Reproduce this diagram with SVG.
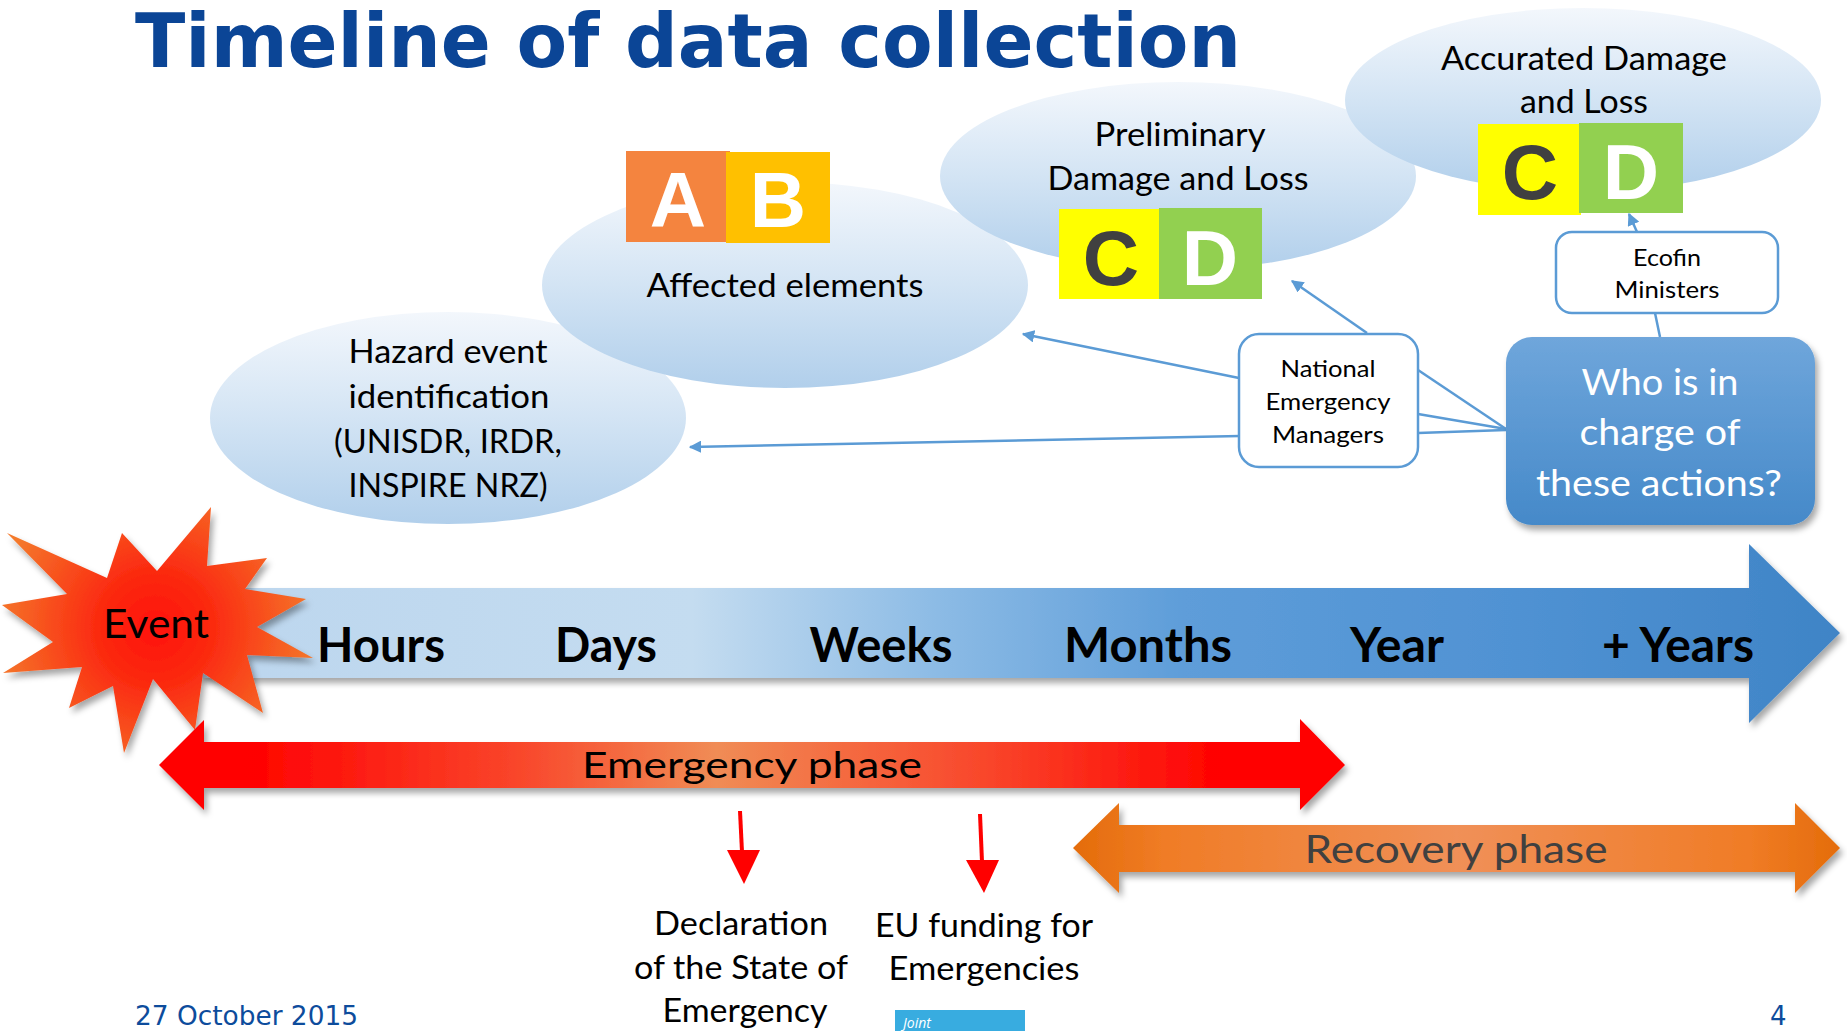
<svg xmlns="http://www.w3.org/2000/svg" width="1847" height="1031" viewBox="0 0 1847 1031">
<defs>
<style>
.t{font-family:Lato,"Open Sans",sans-serif;fill:#000;text-anchor:middle}
.el{font-size:32px}
.bx{font-size:23px}
.tl{font-size:47px;font-weight:bold}
.big{font-family:"Liberation Sans",Arial,sans-serif;font-weight:bold;font-size:78px;text-anchor:middle}
.cn{fill:none;stroke:#5b9bd5;stroke-width:2.5}
.box{fill:#fff;stroke:#5b9bd5;stroke-width:2.5}
.ell{fill:url(#gEll)}
.ft{font-family:"DejaVu Sans",Verdana,sans-serif;font-size:26px;fill:#0d4c9c}
</style>
<linearGradient id="gEll" x1="0" y1="0" x2="0" y2="1">
<stop offset="0" stop-color="#f3f7fc"/>
<stop offset="0.5" stop-color="#d3e4f4"/>
<stop offset="1" stop-color="#b1cfeb"/>
</linearGradient>
<linearGradient id="gTime" gradientUnits="userSpaceOnUse" x1="200" y1="0" x2="1840" y2="0">
<stop offset="0" stop-color="#bcd6ee"/>
<stop offset="0.3" stop-color="#c4dcf0"/>
<stop offset="0.45" stop-color="#8cbbe5"/>
<stop offset="0.6" stop-color="#5e9dd9"/>
<stop offset="0.8" stop-color="#5092d3"/>
<stop offset="1" stop-color="#3f84c6"/>
</linearGradient>
<linearGradient id="gEm" gradientUnits="userSpaceOnUse" x1="159" y1="0" x2="1345" y2="0">
<stop offset="0" stop-color="#ff0000"/>
<stop offset="0.07" stop-color="#ff0000"/>
<stop offset="0.3" stop-color="#f9452a"/>
<stop offset="0.47" stop-color="#f08c55"/>
<stop offset="0.7" stop-color="#f9452a"/>
<stop offset="0.9" stop-color="#ff0000"/>
<stop offset="1" stop-color="#ff0000"/>
</linearGradient>
<linearGradient id="gRec" gradientUnits="userSpaceOnUse" x1="1073" y1="0" x2="1840" y2="0">
<stop offset="0" stop-color="#e46c0a"/>
<stop offset="0.12" stop-color="#f07c26"/>
<stop offset="0.5" stop-color="#f09058"/>
<stop offset="0.88" stop-color="#f07c26"/>
<stop offset="1" stop-color="#e46c0a"/>
</linearGradient>
<linearGradient id="gWho" x1="0" y1="0" x2="0" y2="1">
<stop offset="0" stop-color="#6fa6db"/>
<stop offset="1" stop-color="#4589c9"/>
</linearGradient>
<radialGradient id="gStar" gradientUnits="userSpaceOnUse" cx="155" cy="628" r="165">
<stop offset="0" stop-color="#ff1208"/>
<stop offset="0.35" stop-color="#fb2a10"/>
<stop offset="1" stop-color="#f47a2c"/>
</radialGradient>
<filter id="sh" x="-10%" y="-20%" width="120%" height="150%">
<feDropShadow dx="3" dy="5" stdDeviation="3" flood-color="#000" flood-opacity="0.35"/>
</filter>
<marker id="ah" viewBox="0 0 10 10" refX="9" refY="5" markerWidth="5" markerHeight="5" orient="auto" markerUnits="strokeWidth">
<path d="M0,0 L10,5 L0,10 z" fill="#5b9bd5"/>
</marker>
</defs>

<rect width="1847" height="1031" fill="#fff"/>

<text x="135" y="67" font-family="'DejaVu Sans',Verdana,sans-serif" font-weight="bold" font-size="74" fill="#0b4596" textLength="1106" lengthAdjust="spacingAndGlyphs">Timeline of data collection</text>

<g id="hazard">
<ellipse class="ell" cx="448" cy="418" rx="238" ry="106"/>
<text class="t el" x="448" y="363" textLength="199" lengthAdjust="spacingAndGlyphs">Hazard event</text>
<text class="t el" x="449" y="408" textLength="201" lengthAdjust="spacingAndGlyphs">identification</text>
<text class="t el" x="448" y="453" textLength="228" lengthAdjust="spacingAndGlyphs">(UNISDR, IRDR,</text>
<text class="t el" x="448" y="497" textLength="199" lengthAdjust="spacingAndGlyphs">INSPIRE NRZ)</text>
</g>

<g id="affected">
<ellipse class="ell" cx="785" cy="285" rx="243" ry="103"/>
<rect x="626" y="151" width="104" height="91" fill="#f4843f"/>
<rect x="726" y="152" width="104" height="91" fill="#ffc000"/>
<text class="big" x="678" y="227" fill="#fff">A</text>
<text class="big" x="778" y="227" fill="#fff">B</text>
<text class="t el" x="785" y="297" textLength="277" lengthAdjust="spacingAndGlyphs">Affected elements</text>
</g>

<g id="preliminary">
<ellipse class="ell" cx="1178" cy="176" rx="238" ry="94"/>
<text class="t el" x="1180" y="146" textLength="171" lengthAdjust="spacingAndGlyphs">Preliminary</text>
<text class="t el" x="1178" y="190" textLength="261" lengthAdjust="spacingAndGlyphs">Damage and Loss</text>
<rect x="1059" y="209" width="103" height="90" fill="#ffff00"/>
<rect x="1159" y="208" width="103" height="91" fill="#92d050"/>
<text class="big" x="1111" y="285" fill="#404040">C</text>
<text class="big" x="1210" y="285" fill="#fff">D</text>
</g>

<g id="accurated">
<ellipse class="ell" cx="1583" cy="100" rx="238" ry="92"/>
<text class="t el" x="1584" y="70" textLength="286" lengthAdjust="spacingAndGlyphs">Accurated Damage</text>
<text class="t el" x="1584" y="113" textLength="128" lengthAdjust="spacingAndGlyphs">and Loss</text>
<rect x="1478" y="124" width="103" height="91" fill="#ffff00"/>
<rect x="1579" y="123" width="104" height="90" fill="#92d050"/>
<text class="big" x="1530" y="199" fill="#404040">C</text>
<text class="big" x="1631" y="199" fill="#fff">D</text>
</g>

<g id="connectors">
<line class="cn" x1="1239" y1="378" x2="1023" y2="334" marker-end="url(#ah)"/>
<line class="cn" x1="1240" y1="436" x2="690" y2="447" marker-end="url(#ah)"/>
<line class="cn" x1="1367" y1="333" x2="1292" y2="281" marker-end="url(#ah)"/>
<line class="cn" x1="1637" y1="232" x2="1629" y2="214" marker-end="url(#ah)"/>
<line class="cn" x1="1655" y1="313" x2="1660" y2="337"/>
<line class="cn" x1="1418" y1="370" x2="1506" y2="429"/>
<line class="cn" x1="1418" y1="414" x2="1506" y2="429"/>
<line class="cn" x1="1418" y1="433" x2="1506" y2="430"/>
</g>

<g id="national">
<rect class="box" x="1239" y="334" width="179" height="133" rx="20"/>
<text class="t bx" x="1328" y="377" textLength="95" lengthAdjust="spacingAndGlyphs">National</text>
<text class="t bx" x="1328" y="410" textLength="125" lengthAdjust="spacingAndGlyphs">Emergency</text>
<text class="t bx" x="1328" y="443" textLength="112" lengthAdjust="spacingAndGlyphs">Managers</text>
</g>

<g id="ecofin">
<rect class="box" x="1556" y="232" width="222" height="81" rx="16"/>
<text class="t bx" x="1667" y="266" textLength="68" lengthAdjust="spacingAndGlyphs">Ecofin</text>
<text class="t bx" x="1667" y="298" textLength="105" lengthAdjust="spacingAndGlyphs">Ministers</text>
</g>

<g id="who">
<rect x="1506" y="337" width="309" height="188" rx="26" fill="url(#gWho)" filter="url(#sh)"/>
<text class="t" x="1660" y="395" font-size="37" style="fill:#fff" textLength="157" lengthAdjust="spacingAndGlyphs">Who is in</text>
<text class="t" x="1660" y="445" font-size="37" style="fill:#fff" textLength="161" lengthAdjust="spacingAndGlyphs">charge of</text>
<text class="t" x="1659" y="496" font-size="37" style="fill:#fff" textLength="246" lengthAdjust="spacingAndGlyphs">these actions?</text>
</g>

<g id="timeline">
<path d="M200 588 L1749 588 L1749 544 L1840 633 L1749 723 L1749 678 L200 678 Z" fill="url(#gTime)" filter="url(#sh)"/>
<text class="t tl" x="381" y="662" textLength="128" lengthAdjust="spacingAndGlyphs">Hours</text>
<text class="t tl" x="606" y="662" textLength="102" lengthAdjust="spacingAndGlyphs">Days</text>
<text class="t tl" x="881" y="662" textLength="143" lengthAdjust="spacingAndGlyphs">Weeks</text>
<text class="t tl" x="1148" y="662" textLength="168" lengthAdjust="spacingAndGlyphs">Months</text>
<text class="t tl" x="1397" y="662" textLength="94" lengthAdjust="spacingAndGlyphs">Year</text>
<text class="t tl" x="1678" y="662" textLength="152" lengthAdjust="spacingAndGlyphs">+ Years</text>
</g>

<g id="event">
<path d="M211 507 L207 566 L267 558 L245 589 L306 599 L257 627 L313 658 L247 655 L263 713 L203 673 L195 730 L153 679 L124 753 L113 686 L69 708 L82 667 L3 673 L53 642 L2 605 L67 594 L7 533 L107 578 L122 533 L157 571 Z" fill="url(#gStar)" filter="url(#sh)"/>
<text class="t" x="156" y="638" font-size="40" textLength="106" lengthAdjust="spacingAndGlyphs">Event</text>
</g>

<g id="emergency">
<path d="M159 765 L204 720 L204 742 L1300 742 L1300 719 L1345 765 L1300 810 L1300 788 L204 788 L204 810 Z" fill="url(#gEm)" filter="url(#sh)"/>
<text class="t" x="752" y="778" font-size="36" textLength="340" lengthAdjust="spacingAndGlyphs">Emergency phase</text>
</g>

<g id="recovery">
<path d="M1073 848 L1119 803 L1119 825 L1795 825 L1795 803 L1840 848 L1795 893 L1795 872 L1119 872 L1119 893 Z" fill="url(#gRec)" filter="url(#sh)"/>
<text class="t" x="1456" y="863" font-size="38" style="fill:#404040" textLength="303" lengthAdjust="spacingAndGlyphs">Recovery phase</text>
</g>

<g id="declaration">
<line x1="740" y1="811" x2="742" y2="852" stroke="#ff0000" stroke-width="4"/>
<polygon points="727,850 760,850 744,884" fill="#ff0000"/>
<text class="t el" x="741" y="935" textLength="174" lengthAdjust="spacingAndGlyphs">Declaration</text>
<text class="t el" x="741" y="979" textLength="214" lengthAdjust="spacingAndGlyphs">of the State of</text>
<text class="t el" x="745" y="1022" textLength="165" lengthAdjust="spacingAndGlyphs">Emergency</text>
</g>

<g id="eufunding">
<line x1="980" y1="814" x2="982" y2="862" stroke="#ff0000" stroke-width="4"/>
<polygon points="966,860 999,860 984,893" fill="#ff0000"/>
<text class="t el" x="984" y="937" textLength="218" lengthAdjust="spacingAndGlyphs">EU funding for</text>
<text class="t el" x="984" y="980" textLength="191" lengthAdjust="spacingAndGlyphs">Emergencies</text>
</g>

<g id="footer">
<text class="ft" x="135" y="1025" textLength="223" lengthAdjust="spacingAndGlyphs">27 October 2015</text>
<text class="ft" x="1770" y="1025">4</text>
<rect x="895" y="1010" width="130" height="21" fill="#38ace0"/>
<text x="903" y="1028" font-family="'Open Sans',sans-serif" font-style="italic" font-size="14" fill="#fff">Joint</text>
</g>
</svg>
